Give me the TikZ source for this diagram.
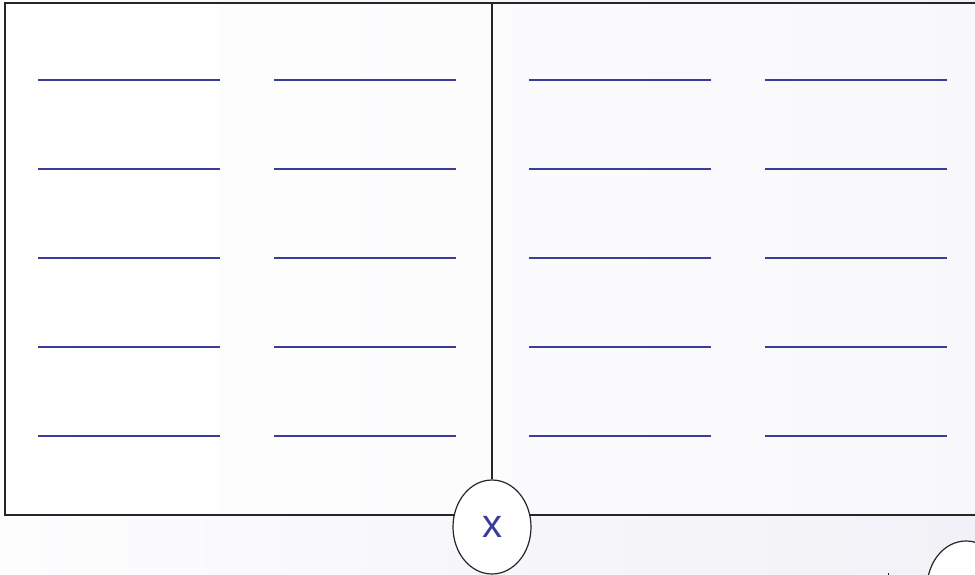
\documentclass[tikz,border=0pt]{standalone}
\usepackage{fontspec}
\setmainfont{Liberation Sans}
\usetikzlibrary{shapes.geometric}
\definecolor{bluelinecol}{HTML}{3B3B98}
\definecolor{framecol}{HTML}{262626}
\definecolor{bgL}{HTML}{FDFDFE}
\definecolor{bgR}{HTML}{F1F1F7}
\tikzset{
  frameline/.style={draw=framecol, line width=2pt},
  writeline/.style={draw=bluelinecol, line width=1.8pt},
  oval/.style={ellipse, draw=framecol, line width=1.2pt, fill=white,
    minimum width=78pt, minimum height=94pt, inner sep=0pt,
    text=bluelinecol, font=\fontsize{40}{44}\selectfont},
}
\begin{document}
\begin{tikzpicture}[x=1pt,y=-1pt]
\useasboundingbox (0,0) rectangle (975,575);
\clip (0,0) rectangle (975,575);
\shade[left color=bgL, right color=bgR] (0,0) rectangle (975,575);
\shade[left color=white, right color=bgL!60!bgR] (5,3) rectangle (980,515);
% frame
\draw[frameline] (5,3) -- (980,3);
\draw[frameline] (5,2) -- (5,515) -- (980,515);
\coordinate (topmid) at (492,3);
\node[oval] (cx) at (492,527) {x};
\node[oval] (cr) at (966,588) {};
\draw[framecol, line width=2pt] (topmid) -- (cx.north);
\draw[framecol, line width=0.8pt] (888,573) -- (888,575);
% writing lines
\foreach \y in {80,169,258,347,436}{
  \foreach \x in {38,274,529,765}{
    \draw[writeline] (\x,\y) -- ++(182,0);
  }
}
\end{tikzpicture}
\end{document}
